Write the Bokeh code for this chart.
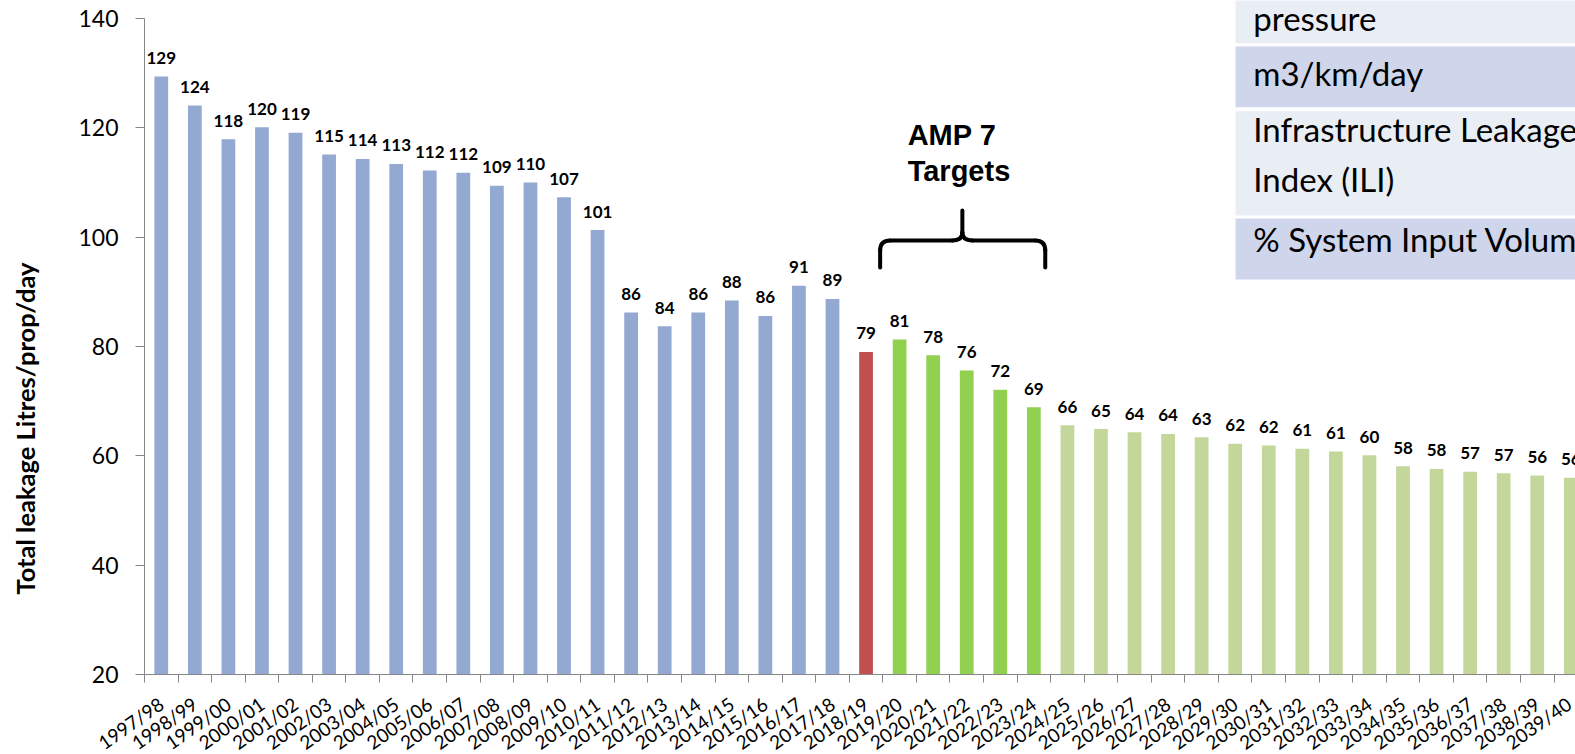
import math
from bokeh.plotting import figure
from bokeh.models import (Range1d, FixedTicker, LinearAxis, ColumnDataSource,
                          LabelSet, Label, BoxAnnotation)
from bokeh.embed import file_html
from bokeh.resources import INLINE
from bokeh.core.properties import value

# ---------------- data ----------------
years = ["1997/98", "1998/99", "1999/00", "2000/01", "2001/02", "2002/03", "2003/04",
         "2004/05", "2005/06", "2006/07", "2007/08", "2008/09", "2009/10", "2010/11",
         "2011/12", "2012/13", "2013/14", "2014/15", "2015/16", "2016/17", "2017/18",
         "2018/19", "2019/20", "2020/21", "2021/22", "2022/23", "2023/24", "2024/25",
         "2025/26", "2026/27", "2027/28", "2028/29", "2029/30", "2030/31", "2031/32",
         "2032/33", "2033/34", "2034/35", "2035/36", "2036/37", "2037/38", "2038/39",
         "2039/40"]
leakage = [129.4, 124.1, 117.9, 120.1, 119.1, 115.1, 114.3, 113.4, 112.2, 111.8,
           109.4, 110.0, 107.3, 101.3, 86.2, 83.7, 86.2, 88.4, 85.6, 91.1, 88.7,
           79.0, 81.3, 78.4, 75.6, 72.1, 68.9, 65.6, 64.9, 64.3, 64.0, 63.4, 62.2,
           61.9, 61.3, 60.8, 60.1, 58.1, 57.6, 57.1, 56.8, 56.4, 56.0]
groups = ["actual"] * 21 + ["base"] + ["amp7"] * 5 + ["future"] * 16
group_colors = {"actual": "#93A9D1", "base": "#C0504D", "amp7": "#92D050", "future": "#C4D79B"}
y_ticks = [20, 40, 60, 80, 100, 120, 140]
y_title = "Total leakage Litres/prop/day"
annotation_lines = ["AMP 7", "Targets"]
table_rows = [["pressure"], ["m3/km/day"], ["Infrastructure Leakage", "Index (ILI)"],
              ["% System Input Volume"]]

# ---------------- figure ----------------
FONT = "Lato"
n = len(years)
xs = list(range(n))
src = ColumnDataSource(dict(
    x=xs, top=leakage,
    label=[f"{v:.0f}" for v in leakage],
    color=[group_colors[g] for g in groups],
))

p = figure(width=1575, height=754, output_backend="svg", toolbar_location=None,
           x_range=Range1d(-4.791, 42.14), y_range=Range1d(5.37, 143.29),
           x_axis_type=None, y_axis_type=None,
           min_border_left=0, min_border_right=0, min_border_top=0, min_border_bottom=0)
p.outline_line_color = None
p.background_fill_color = "white"
p.border_fill_color = "white"

AX = "#868686"
xaxis = LinearAxis(ticker=FixedTicker(ticks=xs, minor_ticks=[i - 0.5 for i in range(n + 1)]),
                   fixed_location=20, bounds=(-0.5, n + 0.5))
xaxis.major_label_overrides = {i: y for i, y in zip(xs, years)}
xaxis.axis_line_color = AX
xaxis.major_tick_line_color = None
xaxis.major_tick_out = 0
xaxis.major_tick_in = 0
xaxis.minor_tick_line_color = AX
xaxis.minor_tick_out = 8
xaxis.minor_tick_in = 0
xaxis.major_label_orientation = math.radians(35)
xaxis.major_label_standoff = 19
xaxis.major_label_text_font = FONT
xaxis.major_label_text_font_size = "19px"
xaxis.major_label_text_color = "black"
p.add_layout(xaxis, "below")

yaxis = LinearAxis(ticker=FixedTicker(ticks=y_ticks), bounds=(20, 140), fixed_location=-0.5)
yaxis.axis_line_color = AX
yaxis.major_tick_line_color = AX
yaxis.major_tick_out = 9
yaxis.major_tick_in = 0
yaxis.minor_tick_out = 0
yaxis.minor_tick_in = 0
yaxis.major_label_standoff = 17
yaxis.major_label_text_font = FONT
yaxis.major_label_text_font_size = "23px"
yaxis.major_label_text_color = "black"
p.add_layout(yaxis, "left")

p.vbar(x="x", top="top", bottom=20, width=0.41, fill_color="color", line_color=None, source=src)

p.add_layout(LabelSet(x="x", y="top", text="label", source=src, text_align="center",
                      text_baseline="alphabetic", y_offset=12.5,
                      text_font=value(FONT), text_font_style="bold",
                      text_font_size="17px", text_color="black"))

p.add_layout(Label(x=-4.05, y=65.0, text=y_title, angle=math.pi / 2,
                   text_align="center", text_baseline="middle",
                   text_font=FONT, text_font_style="bold",
                   text_font_size="25.5px", text_color="black"))

# ---------------- AMP 7 annotation ----------------
p.add_layout(Label(x=22.24, y=118.6, text=annotation_lines[0], text_baseline="alphabetic",
                   text_font="Liberation Sans", text_font_style="bold",
                   text_font_size="29px", text_color="black"))
p.add_layout(Label(x=22.24, y=112.1, text=annotation_lines[1], text_baseline="alphabetic",
                   text_font="Liberation Sans", text_font_style="bold",
                   text_font_size="29px", text_color="black"))

xl, xr, xc = 21.42, 26.34, 23.87
yb, yh, yt = 94.45, 99.39, 104.88
rx, ry = 0.3, 1.8
crx, cry = 0.3, 1.5
bw = dict(line_color="black", line_width=4, line_cap="round")
p.multi_line(xs=[[xl, xl], [xl + rx, xc - crx], [xc, xc], [xc + crx, xr - rx], [xr, xr]],
             ys=[[yb, yh - ry], [yh, yh], [yh + cry, yt], [yh, yh], [yh - ry, yb]], **bw)
p.quadratic(x0=[xl, xc - crx, xc + crx, xr], y0=[yh - ry, yh, yh, yh - ry],
            x1=[xl + rx, xc, xc, xr - rx], y1=[yh, yh + cry, yh + cry, yh],
            cx=[xl, xc, xc, xr], cy=[yh, yh, yh, yh], **bw)

# ---------------- table (top right) ----------------
row_bounds = [(135.48, 150.0), (123.78, 134.88), (103.97, 123.04), (92.26, 103.42)]
row_fill = ["#E9EDF4", "#CFD5EA", "#E9EDF4", "#CFD5EA"]
row_baselines = [[140.15], [130.09], [119.79, 110.64], [99.67]]
for (b, t), fc, lines, bls in zip(row_bounds, row_fill, table_rows, row_baselines):
    p.add_layout(BoxAnnotation(left=32.01, right=60, bottom=b, top=t, fill_color=fc,
                               fill_alpha=1.0, line_color=None))
    for txt, bl in zip(lines, bls):
        p.add_layout(Label(x=32.54, y=bl, text=txt, text_baseline="alphabetic",
                           text_font=FONT, text_font_size="33px", text_color="black"))

open("out.html", "w").write(file_html(p, INLINE))
